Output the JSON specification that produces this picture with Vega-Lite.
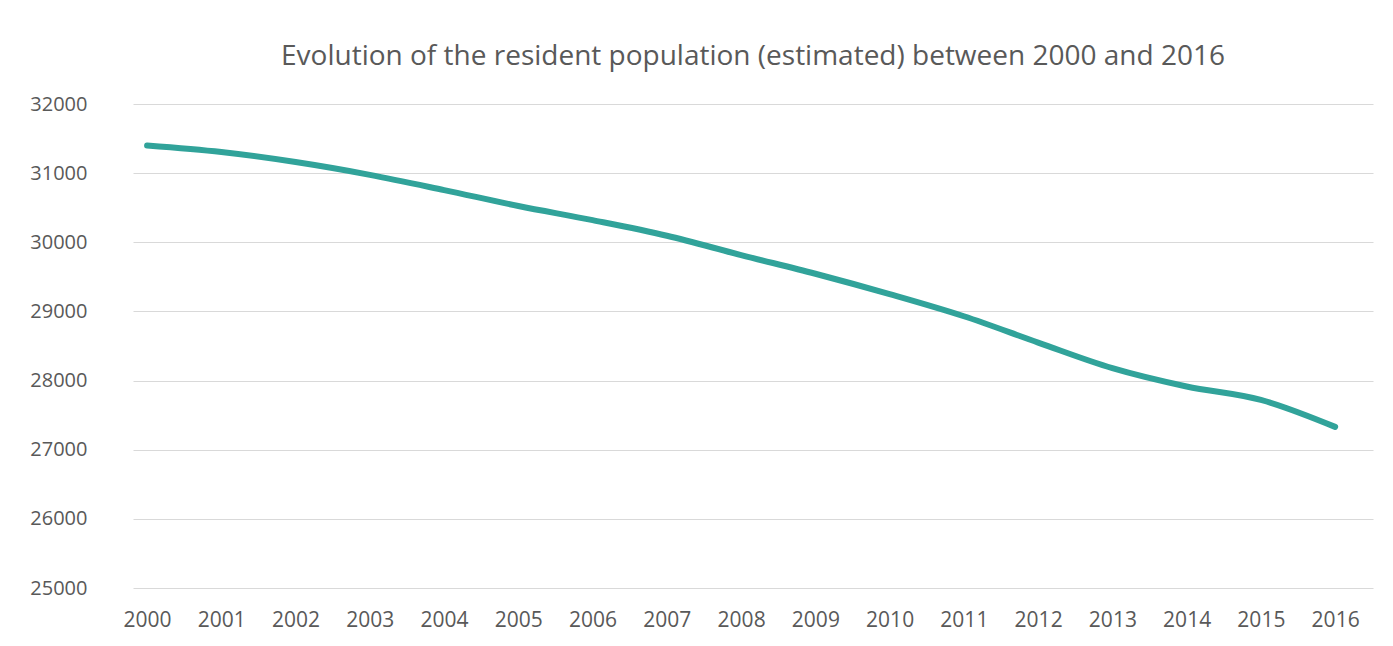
{
  "$schema": "https://vega.github.io/schema/vega-lite/v6.json",
  "width": 1240,
  "height": 484,
  "autosize": {"type": "none"},
  "padding": {"left": 133, "top": 104, "right": 20, "bottom": 58},
  "background": "white",
  "title": {
    "text": "Evolution of the resident population (estimated) between 2000 and 2016",
    "anchor": "middle",
    "fontSize": 28,
    "font": "Open Sans",
    "fontWeight": "normal",
    "color": "#595959",
    "offset": 23
  },
  "data": {
    "values": [
      {"year": 2000, "population": 31400},
      {"year": 2001, "population": 31305},
      {"year": 2002, "population": 31160},
      {"year": 2003, "population": 30975},
      {"year": 2004, "population": 30755},
      {"year": 2005, "population": 30525},
      {"year": 2006, "population": 30320},
      {"year": 2007, "population": 30095},
      {"year": 2008, "population": 29815},
      {"year": 2009, "population": 29545},
      {"year": 2010, "population": 29250},
      {"year": 2011, "population": 28930},
      {"year": 2012, "population": 28550},
      {"year": 2013, "population": 28180},
      {"year": 2014, "population": 27915},
      {"year": 2015, "population": 27720},
      {"year": 2016, "population": 27330}
    ]
  },
  "mark": {"type": "line", "interpolate": "monotone", "color": "#31a39a", "strokeWidth": 6, "strokeCap": "round"},
  "encoding": {
    "x": {
      "field": "year",
      "type": "quantitative",
      "scale": {"domain": [1999.81, 2016.51], "nice": false, "zero": false},
      "axis": {
        "title": null,
        "values": [2000, 2001, 2002, 2003, 2004, 2005, 2006, 2007, 2008, 2009, 2010, 2011, 2012, 2013, 2014, 2015, 2016],
        "format": "d",
        "labelAngle": 0,
        "ticks": false,
        "domain": false,
        "grid": false,
        "labelPadding": 21,
        "labelFontSize": 21,
        "labelFont": "Open Sans",
        "labelColor": "#595959",
        "labelFlush": false,
        "labelOverlap": false
      }
    },
    "y": {
      "field": "population",
      "type": "quantitative",
      "scale": {"domain": [25000, 32000], "nice": false, "zero": false},
      "axis": {
        "title": null,
        "values": [25000, 26000, 27000, 28000, 29000, 30000, 31000, 32000],
        "format": "d",
        "ticks": false,
        "domain": false,
        "grid": true,
        "gridColor": "#d9d9d9",
        "gridWidth": 1,
        "labelPadding": 46,
        "labelFontSize": 20,
        "labelFont": "Open Sans",
        "labelColor": "#595959"
      }
    }
  },
  "config": {"view": {"stroke": null}}
}
